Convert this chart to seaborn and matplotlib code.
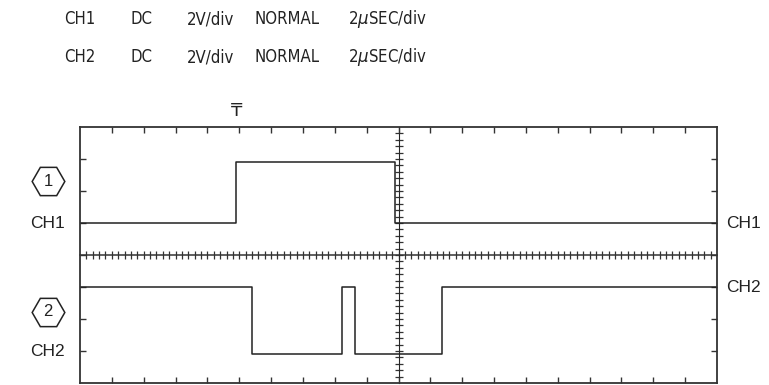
import numpy as np
import pandas as pd
import matplotlib.pyplot as plt
import seaborn as sns

# scope settings printed above the screen
header_ch = ["CH1", "CH2"]
header_coupling = ["DC", "DC"]
header_volts = ["2V/div", "2V/div"]
header_mode = ["NORMAL", "NORMAL"]
header_time = ["2$\\mu$SEC/div", "2$\\mu$SEC/div"]

# traces, in graticule divisions (x = time div, y = div from bottom)
ch1_t = [0, 2.45, 2.45, 4.95, 4.95, 10]
ch1_y = [5, 5, 6.9, 6.9, 5, 5]
ch2_t = [0, 2.70, 2.70, 4.11, 4.11, 4.31, 4.31, 5.69, 5.69, 10]
ch2_y = [3, 3, 0.9, 0.9, 3, 3, 0.9, 0.9, 3, 3]

ch1_gnd = 5      # left side ground markers
ch2_gnd = 1
ch1_right = 5    # right side labels
ch2_right = 3
trig_t = 2.45

sns.set_style("white")
plt.rcParams['font.family'] = ['Liberation Sans', 'DejaVu Sans']
plt.rcParams['mathtext.fontset'] = 'dejavusans'

ink = '#222222'

fig = plt.figure(figsize=(7.69, 3.85), dpi=100)
ax = fig.add_axes([80/769, 2/385, 637/769, 256/385])

df1 = pd.DataFrame({'t': ch1_t, 'v': ch1_y})
df2 = pd.DataFrame({'t': ch2_t, 'v': ch2_y})
sns.lineplot(data=df1, x='t', y='v', estimator=None, sort=False, color=ink, lw=1.1, ax=ax)
sns.lineplot(data=df2, x='t', y='v', estimator=None, sort=False, color=ink, lw=1.1, ax=ax)

ax.set_xlim(0, 10)
ax.set_ylim(0, 8)
ax.set_xlabel('')
ax.set_ylabel('')
for s in ax.spines.values():
    s.set_color('#333333')
    s.set_linewidth(1.3)

# border ticks
ax.set_xticks(np.arange(0.5, 10, 0.5))
ax.set_yticks(np.arange(1, 8, 1))
ax.tick_params(which='major', direction='in', length=4, width=1, color='#333333',
               top=True, bottom=True, left=True, right=True,
               labelbottom=False, labelleft=False)
ax.set_yticks([ch1_gnd, ch2_gnd], minor=True)
ax.tick_params(axis='y', which='minor', direction='out', length=5, width=1,
               color='#333333', left=True, right=False, labelleft=False)

# center cross hair with fine ticks
cx = ax.secondary_xaxis(0.5)
cx.set_xticks(np.arange(0.1, 10, 0.1))
cx.set_xticklabels([])
cx.tick_params(direction='inout', length=6, width=0.9, color='#333333')
cx.spines['top'].set_linewidth(1.1)
cx.spines['top'].set_color('#333333')
cy = ax.secondary_yaxis(0.5)
cy.set_yticks(np.arange(0.2, 8, 0.2))
cy.set_yticklabels([])
cy.tick_params(direction='inout', length=6, width=0.9, color='#333333')
cy.spines['left'].set_linewidth(1.1)
cy.spines['left'].set_color('#333333')

# header
cols = [header_ch, header_coupling, header_volts, header_mode, header_time]
col_x = [64, 130, 187, 255, 348]
row_y = [19, 57]
for ci, col in enumerate(cols):
    for ri, txt in enumerate(col):
        fig.text(col_x[ci]/769, 1 - row_y[ri]/385, txt, family='DejaVu Sans',
                 stretch='condensed', fontsize=12, color=ink, va='center', ha='left')

# trigger point marker
ax.annotate('\u20b8', (trig_t, 8), xytext=(0, 5), textcoords='offset points',
            ha='center', va='bottom', fontsize=13, color=ink, annotation_clip=False)

# channel labels
ax.annotate('CH1', (0, ch1_gnd), xytext=(-11, 0), textcoords='offset points',
            ha='right', va='center', fontsize=12.5, color=ink, annotation_clip=False)
ax.annotate('CH2', (0, ch2_gnd), xytext=(-11, 0), textcoords='offset points',
            ha='right', va='center', fontsize=12.5, color=ink, annotation_clip=False)
ax.annotate('CH1', (10, ch1_right), xytext=(6.5, 0), textcoords='offset points',
            ha='left', va='center', fontsize=12.5, color=ink, annotation_clip=False)
ax.annotate('CH2', (10, ch2_right), xytext=(6.5, 0), textcoords='offset points',
            ha='left', va='center', fontsize=12.5, color=ink, annotation_clip=False)

# hexagon channel badges
for num, yy in [('1', 6.31), ('2', 2.22)]:
    ax.plot([-0.5], [yy], marker='H', ms=23.5, mfc='none', mec=ink, mew=1.1,
            clip_on=False)
    ax.text(-0.5, yy, num, ha='center', va='center', fontsize=12, color=ink,
            clip_on=False)

fig.savefig('out.png', dpi=100, facecolor='white')
